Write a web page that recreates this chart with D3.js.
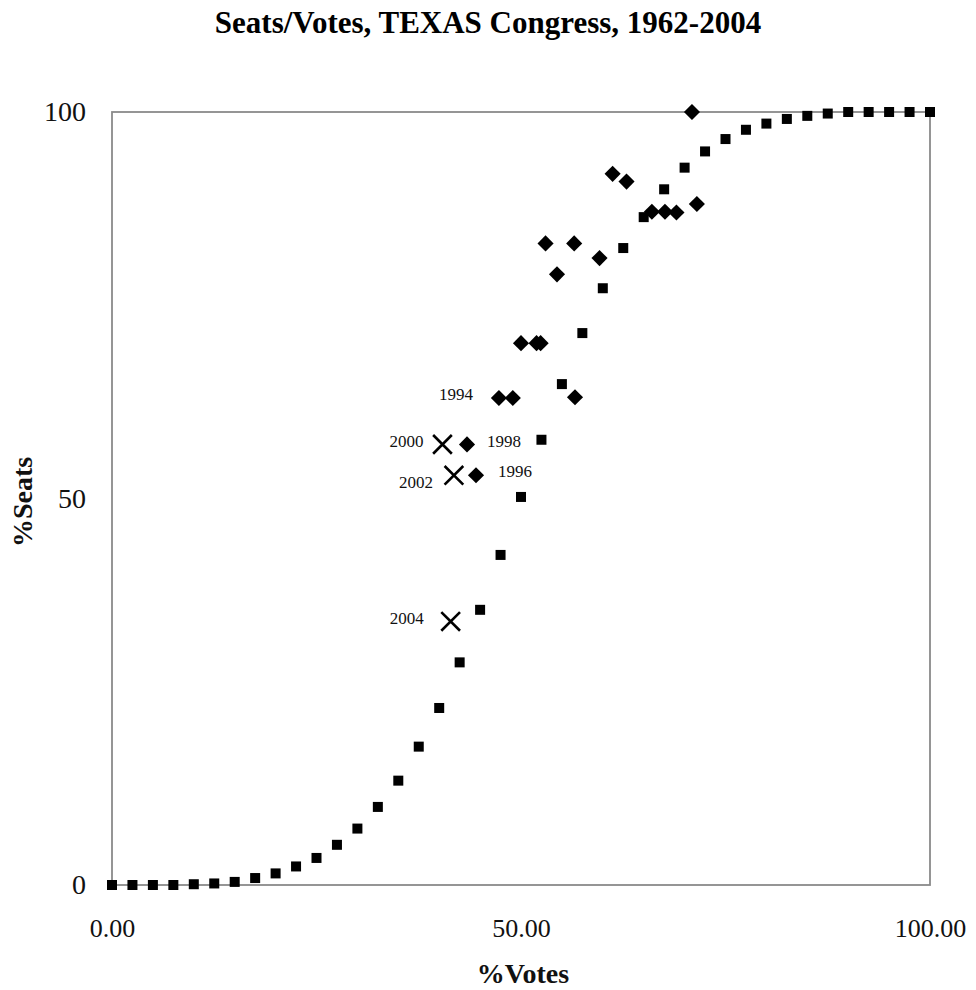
<!DOCTYPE html>
<html>
<head>
<meta charset="utf-8">
<script src="https://cdn.jsdelivr.net/npm/d3@7"></script>
<style>
  body { margin: 0; background: #fff; }
  .tick text { font-family: "Liberation Serif", "DejaVu Serif", serif; fill: #111; }
  .axis-label { font-family: "Liberation Serif", "DejaVu Serif", serif; font-size: 28px; font-weight: bold; fill: #111; }
  .year { font-family: "Liberation Serif", "DejaVu Serif", serif; font-size: 17px; fill: #111; }
</style>
</head>
<body>
<div id="vis"></div>
<script>
// fitted seats/votes curve (squares)
var curveVotes = [0, 2.5, 5, 7.5, 10, 12.5, 15, 17.5, 20, 22.5, 25, 27.5, 30, 32.5, 35, 37.5, 40,
                  42.5, 45, 47.5, 50, 52.5, 55, 57.5, 60, 62.5, 65, 67.5, 70, 72.5, 75, 77.5, 80,
                  82.5, 85, 87.5, 90, 92.5, 95, 97.5, 100];
var curveSeats = [0, 0, 0, 0, 0.1, 0.2, 0.4, 0.9, 1.5, 2.4, 3.5, 5.2, 7.3, 10.1, 13.5, 17.9, 22.9,
                  28.8, 35.6, 42.7, 50.2, 57.6, 64.8, 71.4, 77.2, 82.4, 86.4, 90.0, 92.8, 94.9, 96.5,
                  97.7, 98.5, 99.1, 99.5, 99.8, 100, 100, 100, 100, 100];

// actual elections (diamonds)
var electVotes = [70.9, 61.2, 62.9, 66.0, 67.6, 69.0, 71.5, 53.0, 56.5, 59.6, 54.4,
                  50.0, 51.9, 52.4, 47.3, 49.0, 56.6, 43.4, 44.5];
var electSeats = [100, 92.0, 91.0, 87.1, 87.1, 87.0, 88.1, 83.0, 83.0, 81.1, 79.0,
                  70.1, 70.1, 70.1, 63.0, 63.0, 63.1, 57.0, 53.0];

// recent elections (crosses)
var crossYears = ['2000', '2002', '2004'];
var crossVotes = [40.4, 41.8, 41.4];
var crossSeats = [57.0, 53.0, 34.1];

// labelled diamonds
var diamondYears = ['1994', '1998', '1996'];
var diamondVotes = [47.3, 43.4, 44.5];
var diamondSeats = [63.0, 57.0, 53.0];

var xTicks = [0, 50, 100];
var yTicks = [0, 50, 100];

var width = 976, height = 990;
var margin = { top: 112, right: 46, bottom: 105, left: 112 };
var drawWidth = width - margin.left - margin.right;
var drawHeight = height - margin.top - margin.bottom;

// where each year label sits relative to its mark: dx, dy, anchor
var labelPos = {
    '2000': [-19, 3, 'end'],
    '2002': [-21, 13, 'end'],
    '2004': [-27, 3, 'end'],
    '1994': [-26, 2, 'end'],
    '1998': [20, 3, 'start'],
    '1996': [22, 2, 'start']
};

var svg = d3.select('#vis').append('svg')
    .attr('width', width)
    .attr('height', height);

svg.append('text')
    .attr('x', 488)
    .attr('y', 33)
    .attr('text-anchor', 'middle')
    .style('font-family', '"Liberation Serif", "DejaVu Serif", serif')
    .style('font-size', '31px')
    .style('font-weight', 'bold')
    .text('Seats/Votes, TEXAS Congress, 1962-2004');

var g = svg.append('g')
    .attr('transform', 'translate(' + margin.left + ',' + margin.top + ')');

var xScale = d3.scaleLinear().domain([0, 100]).range([0, drawWidth]);
var yScale = d3.scaleLinear().domain([0, 100]).range([drawHeight, 0]);

// plot frame
g.append('rect')
    .attr('x', 0).attr('y', 0)
    .attr('width', drawWidth).attr('height', drawHeight)
    .attr('fill', 'none')
    .attr('stroke', '#8a8a8a')
    .attr('stroke-width', 1.8);

var xAxis = g.append('g')
    .attr('transform', 'translate(0,' + drawHeight + ')')
    .call(d3.axisBottom(xScale).tickValues(xTicks).tickSize(0).tickPadding(34).tickFormat(d3.format('.2f')));
xAxis.select('.domain').remove();
xAxis.selectAll('.tick text').style('font-size', '26px');

var yAxis = g.append('g')
    .call(d3.axisLeft(yScale).tickValues(yTicks).tickSize(0).tickPadding(26));
yAxis.select('.domain').remove();
yAxis.selectAll('.tick text').style('font-size', '28px');

svg.append('text')
    .attr('class', 'axis-label')
    .attr('x', 523)
    .attr('y', 983)
    .attr('text-anchor', 'middle')
    .text('%Votes');

svg.append('text')
    .attr('class', 'axis-label')
    .attr('transform', 'translate(32,502) rotate(-90)')
    .attr('text-anchor', 'middle')
    .text('%Seats');

// squares
var sq = 10;
g.selectAll('.curve')
    .data(curveVotes)
    .enter().append('rect')
    .attr('class', 'curve')
    .attr('x', function(d) { return xScale(d) - sq / 2; })
    .attr('y', function(d, i) { return yScale(curveSeats[i]) - sq / 2; })
    .attr('width', sq)
    .attr('height', sq)
    .attr('fill', '#000');

// diamonds
var diamond = d3.symbol().type(d3.symbolSquare).size(130);
g.selectAll('.elect')
    .data(electVotes)
    .enter().append('path')
    .attr('class', 'elect')
    .attr('d', diamond)
    .attr('transform', function(d, i) {
        return 'translate(' + xScale(d) + ',' + yScale(electSeats[i]) + ') rotate(45)';
    })
    .attr('fill', '#000');

// crosses
var cross = d3.symbol().type(d3.symbolX).size(230);
g.selectAll('.cross')
    .data(crossVotes)
    .enter().append('path')
    .attr('class', 'cross')
    .attr('d', cross)
    .attr('transform', function(d, i) {
        return 'translate(' + xScale(d) + ',' + yScale(crossSeats[i]) + ')';
    })
    .attr('fill', 'none')
    .attr('stroke', '#000')
    .attr('stroke-width', 2.6);

// year labels
function addLabels(years, votes, seats, cls) {
    g.selectAll('.' + cls)
        .data(years)
        .enter().append('text')
        .attr('class', 'year ' + cls)
        .attr('x', function(d, i) { return xScale(votes[i]) + labelPos[d][0]; })
        .attr('y', function(d, i) { return yScale(seats[i]) + labelPos[d][1]; })
        .attr('text-anchor', function(d) { return labelPos[d][2]; })
        .text(function(d) { return d; });
}
addLabels(crossYears, crossVotes, crossSeats, 'cross-label');
addLabels(diamondYears, diamondVotes, diamondSeats, 'diamond-label');
</script>
</body>
</html>
